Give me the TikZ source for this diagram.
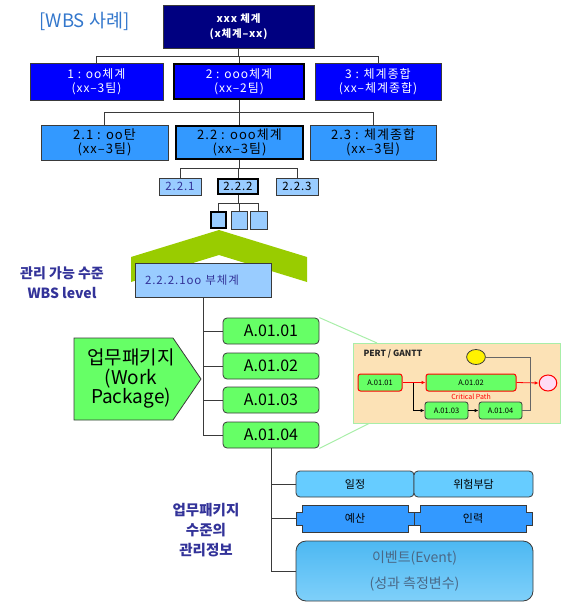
\documentclass[tikz,border=0pt]{standalone}
\usepackage{fontspec}
\setmainfont{Noto Sans CJK KR}
\newfontfamily\widefont[LetterSpace=8]{Noto Sans CJK KR}
\usetikzlibrary{calc,arrows.meta}
\definecolor{navybox}{HTML}{000080}
\definecolor{bluebox}{HTML}{0000FF}
\definecolor{midblue}{HTML}{3399FF}
\definecolor{paleblue}{HTML}{99CCFF}
\definecolor{skyblue}{HTML}{66CCFF}
\definecolor{wpgreen}{HTML}{66FF66}
\definecolor{chevgreen}{HTML}{99CC00}
\definecolor{inkblue}{HTML}{333399}
\definecolor{titleblue}{HTML}{3377CC}
\definecolor{edge}{HTML}{3A3A3A}
\definecolor{peach}{HTML}{FCE2B6}
\definecolor{mint}{HTML}{A8EEA8}
\definecolor{eventink}{HTML}{4A6886}
\definecolor{eventtop}{HTML}{4DB8F2}
\definecolor{eventmid}{HTML}{CFEFFF}
\definecolor{eventbot}{HTML}{7FD0FA}
\begin{document}
\begin{tikzpicture}[x=1pt,y=-1pt,
  conn/.style={draw=edge, line width=1pt},
  box/.style={draw=edge, line width=0.8pt, inner sep=0pt, align=center},
  thick border/.style={draw=black, line width=2.6pt},
  lvlzero/.style={box, fill=navybox, text=white, font=\widefont\fontsize{10.5}{15}\selectfont\bfseries},
  lvlone/.style={box, fill=bluebox, text=white, minimum height=37pt, font=\widefont\fontsize{12}{14.5}\selectfont},
  lvltwo/.style={box, fill=midblue, text=black, minimum height=35pt, font=\widefont\fontsize{13}{13.5}\selectfont},
  lvlthree/.style={box, fill=paleblue, minimum width=42pt, minimum height=17pt, font=\widefont\fontsize{11.5}{12}\selectfont},
  lvlfour/.style={box, fill=paleblue, minimum width=17pt, minimum height=18pt},
  wpbox/.style={box, fill=wpgreen, rounded corners=4pt, minimum width=96pt, minimum height=26pt, font=\fontsize{16}{18}\selectfont},
  pertbox/.style={box, fill=wpgreen, rounded corners=2.5pt, minimum height=17pt, font=\fontsize{7.5}{9}\selectfont},
  infobox/.style={box, fill=skyblue, rounded corners=4pt, minimum height=26pt, font=\fontsize{11}{13}\selectfont},
  sidelabel/.style={text=inkblue, align=center, font=\fontsize{14}{20}\selectfont\bfseries},
  flow/.style={-{Latex[length=4pt,width=3.5pt]}, line width=0.8pt},
  zoomline/.style={draw=mint, line width=1pt}]
\useasboundingbox (0,0) rectangle (562,602);

% title
\node[text=titleblue, font=\fontsize{18.5}{20}\selectfont, anchor=west] (title) at (36,21) {[WBS 사례]};

% top of the tree
\node[lvlzero, minimum width=151pt, minimum height=43pt] (top) at (238.5,26.5) {xxx 체계\\(x체계–xx)};

% level 1
\node[lvlone, minimum width=133pt] (la) at (96.5,81.5) {1 : oo체계\\(xx–3팀)};
\node[lvlone, thick border, minimum width=130pt, minimum height=35pt] (lb) at (239,81.5) {2 : ooo체계\\(xx–2팀)};
\node[lvlone, minimum width=126pt] (lc) at (378,81.5) {3 : 체계종합\\(xx–체계종합)};

% level 2
\node[lvltwo, minimum width=127pt] (ma) at (104.5,142.5) {2.1 : oo탄\\(xx–3팀)};
\node[lvltwo, thick border, minimum width=127pt, minimum height=33pt] (mb) at (239.5,142.5) {2.2 : ooo체계\\(xx–3팀)};
\node[lvltwo, minimum width=126pt] (mc) at (373,142.5) {2.3 : 체계종합\\(xx–3팀)};

% level 3
\node[lvlthree, text=inkblue] (na) at (180,186.5) {2.2.1};
\node[lvlthree, thick border, minimum width=40pt, minimum height=15pt] (nb) at (238,186.5) {2.2.2};
\node[lvlthree] (nc) at (297,186.5) {2.2.3};

% level 4
\node[lvlfour, thick border, minimum width=15pt, minimum height=16pt] (oa) at (218.5,220) {};
\node[lvlfour, minimum width=16pt] (ob) at (239,220) {};
\node[lvlfour] (oc) at (258.5,220) {};

% tree connectors over horizontal buses
\coordinate (busa) at (0,57);
\coordinate (busb) at (0,112);
\coordinate (busc) at (0,168);
\coordinate (busd) at (0,203);
\foreach \c in {la,lb,lc} \draw[conn] (\c.north) -- (\c.north |- busa) -| (top.south);
\foreach \c in {ma,mb,mc} \draw[conn] (\c.north) -- (\c.north |- busb) -| (lb.south);
\foreach \c in {na,nb,nc} \draw[conn] (\c.north) -- (\c.north |- busc) -| (mb.south);
\foreach \c in {oa,ob,oc} \draw[conn] (\c.north) -- (\c.north |- busd) -| (nb.south);

% chevron under the selected work element
\fill[chevgreen] (131,257) -- (219,230) -- (307,257) -- (307,282) -- (219,255) -- (131,282) -- cycle;

% manageable level
\node[box, fill=paleblue, minimum width=136pt, minimum height=34pt, text width=116pt, inner xsep=10pt, align=left,
      text=inkblue, font=\widefont\fontsize{11.5}{12}\selectfont] (sub) at (203,280) {2.2.2.1oo 부체계};
\node[sidelabel] (lvl) at (62,283) {관리 가능 수준\\WBS level};

% work packages
\node[wpbox] (wa) at (271,331) {A.01.01};
\node[wpbox] (wb) at (271,366) {A.01.02};
\node[wpbox] (wc) at (271,400) {A.01.03};
\node[wpbox] (wd) at (271,435) {A.01.04};
\draw[conn] (sub.south) -- (sub.south |- wd.west);
\foreach \c in {wa,wb,wc,wd} \draw[conn] (\c.west) -- (\c.west -| sub.south);

% work package tag
\fill[wpgreen, draw=edge, line width=0.8pt] (74,338) -- (173,338) -- (201,379) -- (173,420) -- (74,420) -- cycle;
\node[align=center, font=\fontsize{19}{19.5}\selectfont] (wptag) at (131,379) {업무패키지\\(Work\\Package)};

% PERT / GANTT panel
\draw[zoomline] (wa.north east) -- (377,343);
\draw[zoomline] (wd.south east) -- (370,423);
\node[draw=mint, line width=1pt, fill=peach, minimum width=207pt, minimum height=80pt, inner sep=0pt] (pert) at (457,383) {};
\node[anchor=west, font=\fontsize{8.5}{10}\selectfont\bfseries, text=black!85] (perttitle) at (360,354) {PERT / GANTT};
\node[draw=edge, line width=0.8pt, fill=yellow, minimum width=15pt, inner sep=0pt, shape=circle, xscale=1.25] (start) at (476,357) {};
\node[draw=red, line width=1pt, fill=pink!60!magenta!25, minimum width=16pt, inner sep=0pt, shape=circle, xscale=1.1] (finish) at (548,383) {};
\node[pertbox, draw=red, line width=1pt, minimum width=44pt] (pa) at (380,382.5) {A.01.01};
\node[pertbox, draw=red, line width=1pt, minimum width=90pt] (pb) at (471,382.5) {A.01.02};
\node[pertbox, minimum width=43pt] (pc) at (446.5,410.5) {A.01.03};
\node[pertbox, minimum width=43pt] (pd) at (500.5,410.5) {A.01.04};
\node[text=red, font=\fontsize{7}{8}\selectfont] (crit) at (471,396.5) {Critical Path};
\draw[flow, red] (pa.east) -- (pb.west);
\draw[flow, red] (pb.east) -- (finish.west);
\draw[flow, black] ($(pa.east)+(11,0)$) |- (pc.west);
\draw[flow, black] (pc.east) -- (pd.west);
\coordinate (loop) at (530,410.5);
\draw[draw=gray!80!black, line width=0.8pt] (start.east) -| (loop) -- (pd.east);

% management information of a work package
\node[sidelabel, font=\fontsize{14.5}{20}\selectfont\bfseries] (info) at (206,530) {업무패키지\\수준의\\관리정보};
\node[infobox, minimum width=118pt] (ra) at (355,484) {일정};
\node[infobox, minimum width=119pt] (rb) at (473.5,484) {위험부담};

\fill[midblue, draw=edge, line width=0.8pt] (302,505) -- (408,505) -- (408,512) -- (414,512) -- (414,525) -- (408,525) -- (408,532)
  -- (302,532) -- (302,525) -- (296,525) -- (296,512) -- (302,512) -- cycle;
\fill[midblue, draw=edge, line width=0.8pt] (420,505) -- (526,505) -- (526,512) -- (532,512) -- (532,525) -- (526,525) -- (526,532)
  -- (420,532) -- (420,525) -- (414,525) -- (414,512) -- (420,512) -- cycle;
\node[minimum width=118pt, minimum height=27pt, inner sep=0pt, font=\fontsize{11}{13}\selectfont] (sa) at (355,518.5) {예산};
\node[minimum width=118pt, minimum height=27pt, inner sep=0pt, font=\fontsize{11}{13}\selectfont] (sb) at (473,518.5) {인력};

\node[box, rounded corners=10pt, top color=eventtop, middle color=eventmid, bottom color=eventbot,
      minimum width=237pt, minimum height=60pt, text=eventink, font=\fontsize{14}{26}\selectfont] (ev) at (414.5,571)
      {이벤트(Event)\\(성과 측정변수)};

\draw[conn] (wd.south) -- (wd.south |- ev.west);
\foreach \c in {ra,sa,ev} \draw[conn] (\c.west) -- (\c.west -| wd.south);
\end{tikzpicture}
\end{document}
